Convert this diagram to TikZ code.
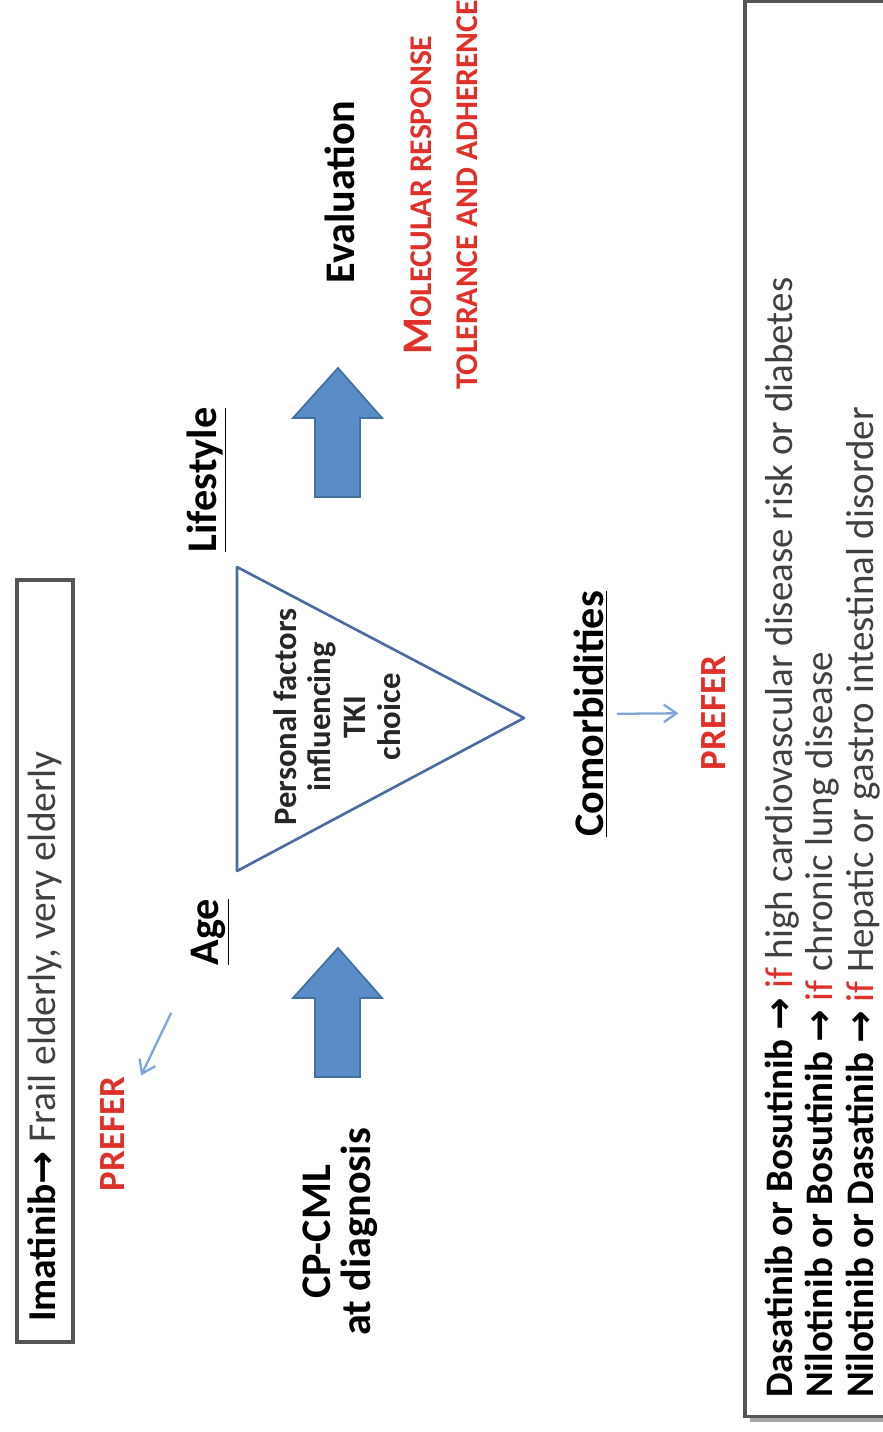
\documentclass[tikz,border=0pt]{standalone}
\usepackage{fontspec}
\setmainfont{Carlito}
\newfontfamily\arrowfont{DejaVu Sans}
\usetikzlibrary{arrows.meta, calc, shadows}
\definecolor{cblue}{HTML}{5A8DC8}
\definecolor{cblueline}{HTML}{41719C}
\definecolor{ctri}{HTML}{4A6C9E}
\definecolor{clight}{HTML}{7EA6D6}
\definecolor{cred}{HTML}{E0302A}
\definecolor{cgrey}{HTML}{404040}
\definecolor{cframe}{HTML}{555555}
\newcommand{\rarr}{{\arrowfont\bfseries →}}
\tikzset{
  every picture/.style={line width=1pt},
  lbl/.style={rotate=90, inner sep=1pt, font=\bfseries\fontsize{24}{28}\selectfont},
  prefer/.style={rotate=90, inner sep=1pt, text=cred, font=\bfseries\fontsize{21}{24}\selectfont},
  thinarrow/.style={-{Straight Barb[length=2.5mm, width=3.5mm]}, draw=clight, line width=1.3pt},
  blockarrow/.style={fill=cblue, draw=cblueline, line width=1pt},
  frame/.style={draw=cframe, line width=1.8pt},
}

\begin{document}
\begin{tikzpicture}[x=0.02cm, y=-0.02cm]
  \useasboundingbox (0,0) rectangle (882,1432);
  % top left box
  \node[frame, rotate=90, minimum width=15.24cm, minimum height=1.12cm, inner xsep=0.4cm, text width=14.44cm, align=flush left, font=\fontsize{22.5}{24}\selectfont] (imat) at (45,961)
    {{\bfseries Imatinib}\rarr{} {\color{cgrey}Frail elderly, very elderly}};
  \node[prefer] (prefA) at (113,1134) {PREFER};
  % triangle
  \draw[ctri, line width=1.5pt, line join=round] (237,567) -- (237,871) -- (524,718) -- cycle;
  \node[rotate=90, align=center, text=black!85, font=\bfseries\fontsize{18.6}{19.8}\selectfont] (pf) at (337,717)
    {Personal factors\\influencing\\TKI\\choice};
  \node[lbl] (life) at (207,480) {\underline{Lifestyle}};
  \node[lbl] (age) at (210,932) {\underline{Age}};
  \node[lbl] (comorb) at (591,714) {\underline{Comorbidities}};
  \node[lbl] (eval) at (340,192) {Evaluation};
  \node[lbl, align=center, font=\bfseries\fontsize{24}{23}\selectfont] (cpcml) at (340,1232) {CP-CML\\at diagnosis};
  \node[prefer] (prefB) at (714,713) {PREFER};
  \node[rotate=90, align=center, text=cred, inner sep=0pt, font=\bfseries\fontsize{18}{26.6}\selectfont] (resp) at (441,195)
    {{\fontsize{24}{26.6}\selectfont M}OLECULAR RESPONSE\\TOLERANCE AND ADHERENCE};
  % block arrows
  \foreach \ty in {368, 948}
    \draw[blockarrow] (338,\ty) -- (382,\ty+50) -- (360,\ty+50) -- (360,\ty+129)
      -- (315,\ty+129) -- (315,\ty+50) -- (293,\ty+50) -- cycle;
  % thin arrows
  \draw[thinarrow] ($(age)!0.40!(prefA)$) -- ($(age)!0.71!(prefA)$);
  \draw[thinarrow] ($(comorb)!0.21!(prefB)$) -- ($(comorb)!0.71!(prefB)$);
  % bottom box
  \node[frame, fill=white, drop shadow={shadow xshift=3pt, shadow yshift=-3pt, fill=black!35, opacity=1},
        rotate=90, minimum width=28.32cm, minimum height=3.1cm, inner xsep=0.38cm, text width=27.56cm,
        align=flush left, font=\fontsize{22.2}{23.2}\selectfont] (legend) at (822.5,709)
    {{\bfseries Dasatinib or Bosutinib \rarr} {\color{cred}if} {\color{cgrey}high cardiovascular disease risk or diabetes}\\
     {\bfseries Nilotinib or Bosutinib \rarr} {\color{cred}if} {\color{cgrey}chronic lung disease}\\
     {\bfseries Nilotinib or Dasatinib \rarr} {\color{cred}if} {\color{cgrey}Hepatic or gastro intestinal disorder}};
\end{tikzpicture}
\end{document}
